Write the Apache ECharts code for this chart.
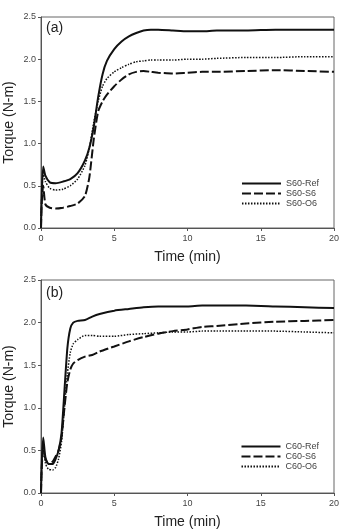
<!DOCTYPE html>
<html>
<head>
<meta charset="utf-8">
<script src="https://cdn.jsdelivr.net/npm/echarts@6/dist/echarts.min.js"></script>
<style>
  html, body { margin: 0; padding: 0; background: #fff; }
  #main { width: 344px; height: 529px; }
</style>
</head>
<body>
<div id="main"></div>
<script>
// panel (a) S60
const timeA = [0, 0.05, 0.15, 0.3, 0.6, 1, 1.5, 2, 2.5, 3, 3.3, 3.6, 3.9, 4.2, 4.5, 5, 5.5, 6, 6.5, 7, 7.5, 8, 9, 10, 11, 12, 14, 16, 18, 20]
const s60Ref = [0, 0.4, 0.73, 0.62, 0.54, 0.53, 0.55, 0.58, 0.65, 0.8, 0.95, 1.2, 1.55, 1.82, 1.98, 2.12, 2.21, 2.27, 2.31, 2.34, 2.35, 2.35, 2.34, 2.33, 2.33, 2.34, 2.34, 2.35, 2.35, 2.35]
const s60S6 = [0, 0.3, 0.5, 0.28, 0.24, 0.23, 0.24, 0.26, 0.29, 0.38, 0.6, 1.05, 1.38, 1.5, 1.58, 1.68, 1.76, 1.82, 1.85, 1.86, 1.85, 1.84, 1.83, 1.84, 1.85, 1.85, 1.86, 1.87, 1.86, 1.85]
const s60O6 = [0, 0.35, 0.65, 0.55, 0.47, 0.45, 0.46, 0.5, 0.58, 0.74, 0.95, 1.25, 1.5, 1.68, 1.77, 1.85, 1.9, 1.94, 1.97, 1.98, 1.99, 1.99, 1.99, 2.0, 2.0, 2.01, 2.02, 2.02, 2.03, 2.03]

// panel (b) C60
const timeB = [0, 0.05, 0.15, 0.3, 0.5, 0.8, 1, 1.2, 1.4, 1.6, 1.8, 2, 2.2, 2.5, 3, 3.5, 4, 5, 6, 7, 8, 9, 10, 11, 12, 14, 16, 18, 20]
const c60Ref = [0, 0.35, 0.65, 0.42, 0.34, 0.34, 0.4, 0.5, 0.7, 1.2, 1.7, 1.93, 2.0, 2.02, 2.03, 2.07, 2.1, 2.14, 2.16, 2.18, 2.19, 2.19, 2.19, 2.2, 2.2, 2.2, 2.19, 2.18, 2.17]
const c60S6 = [0, 0.3, 0.5, 0.4, 0.35, 0.37, 0.43, 0.5, 0.65, 1.0, 1.3, 1.45, 1.52, 1.56, 1.6, 1.62, 1.66, 1.72, 1.78, 1.83, 1.87, 1.9, 1.92, 1.95, 1.96, 1.99, 2.01, 2.02, 2.03]
const c60O6 = [0, 0.3, 0.55, 0.35, 0.28, 0.27, 0.3, 0.4, 0.6, 1.0, 1.4, 1.65, 1.75, 1.8, 1.85, 1.85, 1.84, 1.84, 1.86, 1.87, 1.88, 1.89, 1.89, 1.9, 1.9, 1.9, 1.9, 1.89, 1.88]

const namesA = ['S60-Ref', 'S60-S6', 'S60-O6']
const namesB = ['C60-Ref', 'C60-S6', 'C60-O6']
const panelLabels = ['(a)', '(b)']
const xTitle = 'Time (min)'
const yTitle = 'Torque (N-m)'

const font = 'Arial, "Liberation Sans", sans-serif'
const lineStyles = [
  { type: 'solid', width: 2 },
  { type: [9, 3], width: 2 },
  { type: [1.5, 1.5], width: 1.5 }
]

const zip = (t, v) => t.map((x, i) => [x, v[i]])

const xAxisBase = idx => ({
  type: 'value',
  gridIndex: idx,
  min: 0,
  max: 20,
  interval: 5,
  name: xTitle,
  nameLocation: 'middle',
  nameGap: 22,
  nameTextStyle: { fontFamily: font, fontSize: 14, color: '#222' },
  axisLine: { lineStyle: { color: '#555', width: 1 } },
  axisTick: { inside: false, length: 3, lineStyle: { color: '#555' } },
  axisLabel: { fontFamily: font, fontSize: 9, color: '#444', margin: 6 },
  splitLine: { show: false }
})

const yAxisBase = idx => ({
  type: 'value',
  gridIndex: idx,
  min: 0,
  max: 2.5,
  interval: 0.5,
  name: yTitle,
  nameLocation: 'middle',
  nameGap: 25,
  nameMoveOverlap: false,
  nameTextStyle: { fontFamily: font, fontSize: 14, color: '#222' },
  axisLine: { show: true, lineStyle: { color: '#555', width: 1 } },
  axisTick: { show: true, length: 3, lineStyle: { color: '#555' } },
  axisLabel: { fontFamily: font, fontSize: 9, color: '#444', margin: 5, formatter: v => v.toFixed(1) },
  splitLine: { show: false }
})

const makeSeries = (names, t, vals, idx) => names.map((n, i) => ({
  name: n,
  type: 'line',
  xAxisIndex: idx,
  yAxisIndex: idx,
  data: zip(t, vals[i]),
  symbol: 'none',
  smooth: 0.2,
  lineStyle: Object.assign({ color: '#111' }, lineStyles[i]),
  itemStyle: { color: '#111' },
  z: 3 - i
}))

const legendBase = (names, top) => ({
  data: names,
  orient: 'vertical',
  right: 20,
  top: top,
  itemWidth: 39,
  itemHeight: 8,
  itemGap: 1,
  itemStyle: { opacity: 0 },
  textStyle: { fontFamily: font, fontSize: 9, color: '#444', lineHeight: 9 }
})

const myChart = echarts.init(document.getElementById('main'))
const option = {
  animation: false,
  backgroundColor: '#fff',
  title: [
    { text: panelLabels[0], left: 46, top: 21, padding: 0, textStyle: { fontFamily: font, fontSize: 14, fontWeight: 'normal', color: '#222' } },
    { text: panelLabels[1], left: 46, top: 286, padding: 0, textStyle: { fontFamily: font, fontSize: 14, fontWeight: 'normal', color: '#222' } }
  ],
  grid: [
    { left: 41, right: 10, top: 17, height: 211, show: true, borderColor: '#666', borderWidth: 1, outerBoundsMode: 'none', containLabel: false },
    { left: 41, right: 10, top: 280, height: 213, show: true, borderColor: '#666', borderWidth: 1, outerBoundsMode: 'none', containLabel: false }
  ],
  legend: [legendBase(namesA, 174), legendBase(namesB, 437)],
  xAxis: [xAxisBase(0), xAxisBase(1)],
  yAxis: [yAxisBase(0), yAxisBase(1)],
  series: [
    ...makeSeries(namesA, timeA, [s60Ref, s60S6, s60O6], 0),
    ...makeSeries(namesB, timeB, [c60Ref, c60S6, c60O6], 1)
  ]
}
myChart.setOption(option)
</script>
</body>
</html>
